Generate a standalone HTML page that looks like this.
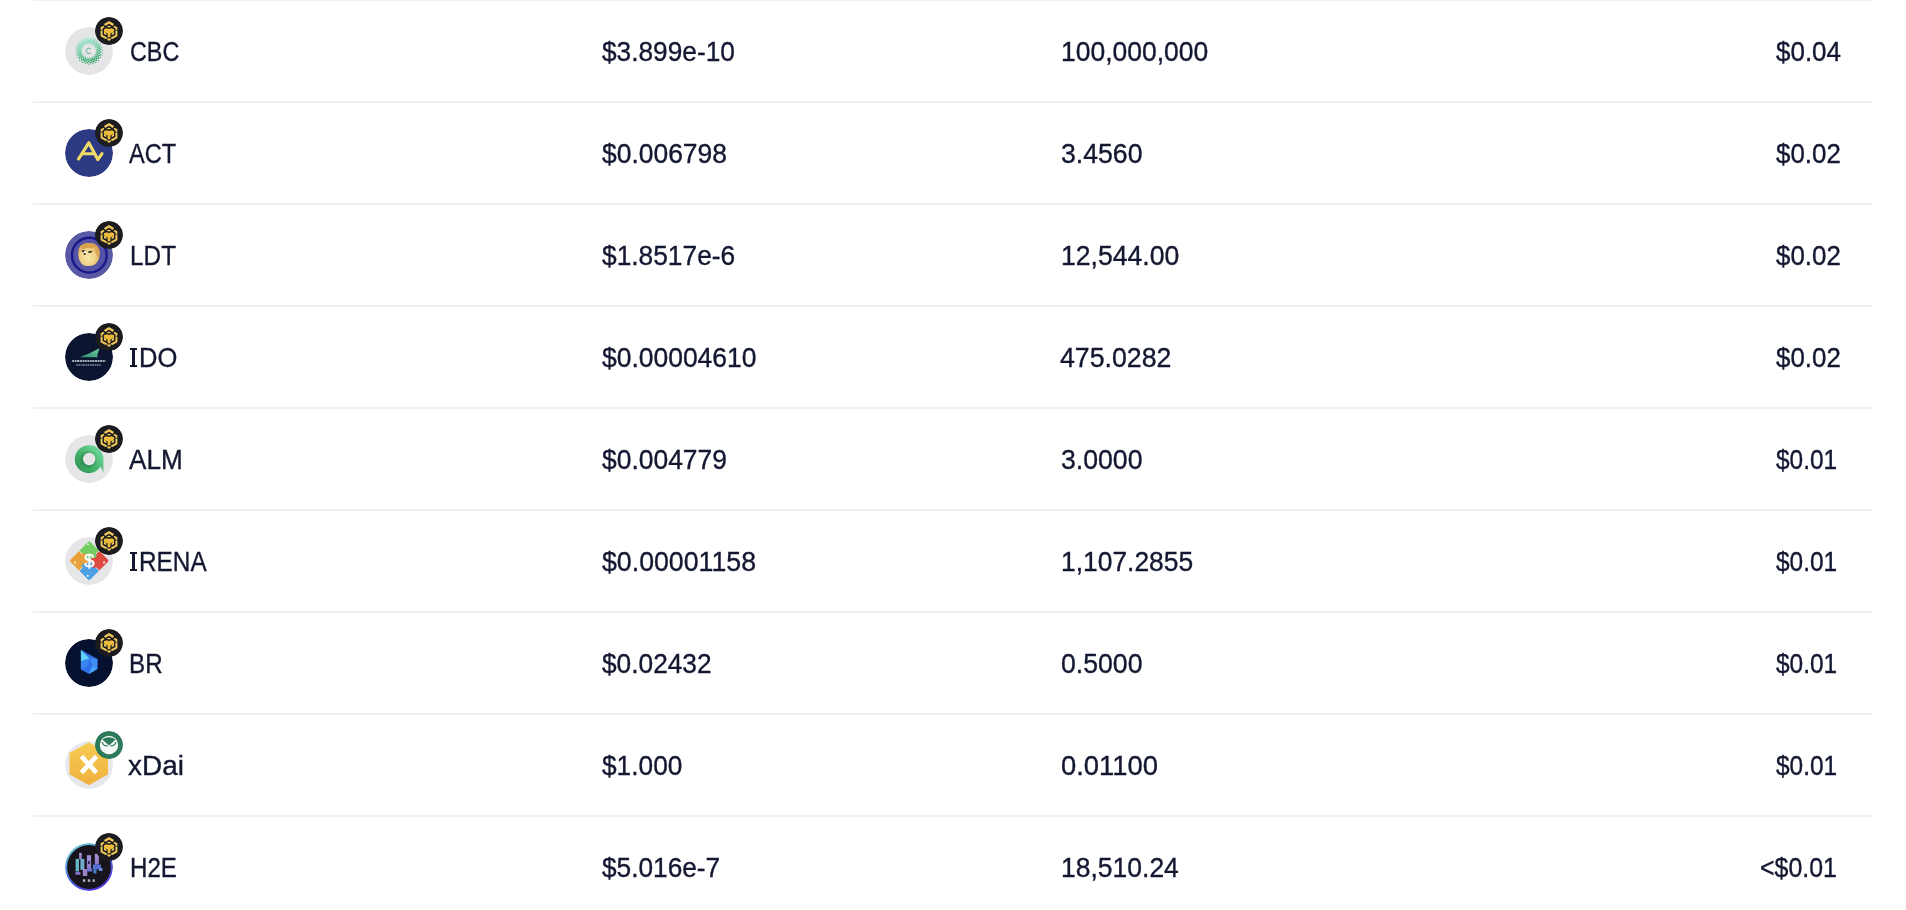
<!DOCTYPE html>
<html><head><meta charset="utf-8"><style>
html,body{margin:0;padding:0;background:#fff;width:1906px;height:910px;overflow:hidden;}
body{font-family:"Liberation Sans",sans-serif;color:#131730;position:relative;}
.ln{position:absolute;left:33px;width:1840px;height:2px;background:#eef0f5;}
.ic{position:absolute;left:65px;width:48px;height:48px;border-radius:50%;overflow:hidden;}
.ic svg,.bd svg{display:block;width:100%;height:100%;}
.bd{position:absolute;left:95px;width:28px;height:28px;border-radius:50%;overflow:hidden;}
.tw{position:absolute;left:0;top:0;width:1906px;height:910px;will-change:transform;}
.ib{position:absolute;background:#131730;}
.t{position:absolute;height:60px;line-height:60px;font-size:27.5px;white-space:nowrap;transform-origin:0 0;-webkit-text-stroke:0.35px #131730;}
</style></head><body>
<div class="ln" style="top:-1px"></div>
<div class="ln" style="top:101px"></div>
<div class="ln" style="top:203px"></div>
<div class="ln" style="top:305px"></div>
<div class="ln" style="top:407px"></div>
<div class="ln" style="top:509px"></div>
<div class="ln" style="top:611px"></div>
<div class="ln" style="top:713px"></div>
<div class="ln" style="top:815px"></div>
<div class="tw"><div class="ic" style="top:27px"><svg viewBox="0 0 48 48"><circle cx="24" cy="24" r="24" fill="#e5e5e7"/><circle cx="31.40" cy="23.80" r="0.60" fill="rgb(83, 188, 137)"/><circle cx="31.15" cy="25.72" r="0.60" fill="rgb(77, 183, 130)"/><circle cx="30.41" cy="27.50" r="0.60" fill="rgb(72, 179, 125)"/><circle cx="29.23" cy="29.03" r="0.60" fill="rgb(68, 175, 121)"/><circle cx="27.70" cy="30.21" r="0.60" fill="rgb(66, 173, 118)"/><circle cx="25.92" cy="30.95" r="0.60" fill="rgb(65, 173, 118)"/><circle cx="24.00" cy="31.20" r="0.60" fill="rgb(67, 174, 119)"/><circle cx="22.08" cy="30.95" r="0.60" fill="rgb(70, 177, 123)"/><circle cx="20.30" cy="30.21" r="0.60" fill="rgb(75, 181, 128)"/><circle cx="18.77" cy="29.03" r="0.60" fill="rgb(80, 186, 134)"/><circle cx="17.59" cy="27.50" r="0.60" fill="rgb(87, 191, 142)"/><circle cx="16.85" cy="25.72" r="0.60" fill="rgb(94, 197, 149)"/><circle cx="16.60" cy="23.80" r="0.60" fill="rgb(101, 203, 157)"/><circle cx="16.85" cy="21.88" r="0.60" fill="rgb(107, 208, 164)"/><circle cx="17.59" cy="20.10" r="0.60" fill="rgb(112, 212, 169)"/><circle cx="18.77" cy="18.57" r="0.60" fill="rgb(116, 216, 173)"/><circle cx="20.30" cy="17.39" r="0.60" fill="rgb(118, 218, 176)"/><circle cx="22.08" cy="16.65" r="0.60" fill="rgb(119, 218, 176)"/><circle cx="24.00" cy="16.40" r="0.60" fill="rgb(117, 217, 175)"/><circle cx="25.92" cy="16.65" r="0.60" fill="rgb(114, 214, 171)"/><circle cx="27.70" cy="17.39" r="0.60" fill="rgb(109, 210, 166)"/><circle cx="29.23" cy="18.57" r="0.60" fill="rgb(104, 205, 160)"/><circle cx="30.41" cy="20.10" r="0.60" fill="rgb(97, 200, 152)"/><circle cx="31.15" cy="21.88" r="0.60" fill="rgb(90, 194, 145)"/><circle cx="32.82" cy="24.96" r="0.92" fill="rgb(78, 183, 131)"/><circle cx="32.22" cy="27.21" r="0.92" fill="rgb(71, 178, 123)"/><circle cx="31.06" cy="29.22" r="0.92" fill="rgb(65, 173, 117)"/><circle cx="29.42" cy="30.86" r="0.92" fill="rgb(62, 170, 113)"/><circle cx="27.41" cy="32.02" r="0.92" fill="rgb(60, 169, 112)"/><circle cx="25.16" cy="32.62" r="0.92" fill="rgb(61, 169, 112)"/><circle cx="22.84" cy="32.62" r="0.92" fill="rgb(63, 171, 115)"/><circle cx="20.59" cy="32.02" r="0.92" fill="rgb(68, 175, 121)"/><circle cx="18.58" cy="30.86" r="0.92" fill="rgb(74, 181, 128)"/><circle cx="16.94" cy="29.22" r="0.92" fill="rgb(82, 187, 136)"/><circle cx="15.78" cy="27.21" r="0.92" fill="rgb(90, 194, 145)"/><circle cx="15.18" cy="24.96" r="0.92" fill="rgb(99, 201, 154)"/><circle cx="15.18" cy="22.64" r="0.92" fill="rgb(106, 208, 163)"/><circle cx="15.78" cy="20.39" r="0.92" fill="rgb(113, 213, 171)"/><circle cx="16.94" cy="18.38" r="0.92" fill="rgb(119, 218, 177)"/><circle cx="18.58" cy="16.74" r="0.92" fill="rgb(122, 221, 181)"/><circle cx="20.59" cy="15.58" r="0.92" fill="rgb(124, 222, 182)"/><circle cx="22.84" cy="14.98" r="0.92" fill="rgb(123, 222, 182)"/><circle cx="25.16" cy="14.98" r="0.92" fill="rgb(121, 220, 179)"/><circle cx="27.41" cy="15.58" r="0.92" fill="rgb(116, 216, 173)"/><circle cx="29.42" cy="16.74" r="0.92" fill="rgb(110, 210, 166)"/><circle cx="31.06" cy="18.38" r="0.92" fill="rgb(102, 204, 158)"/><circle cx="32.22" cy="20.39" r="0.92" fill="rgb(94, 197, 149)"/><circle cx="32.82" cy="22.64" r="0.92" fill="rgb(85, 190, 140)"/><circle cx="34.40" cy="23.80" r="1.02" fill="rgb(80, 185, 133)"/><circle cx="34.05" cy="26.49" r="1.02" fill="rgb(71, 178, 124)"/><circle cx="33.01" cy="29.00" r="1.02" fill="rgb(64, 172, 116)"/><circle cx="31.35" cy="31.15" r="1.02" fill="rgb(58, 167, 110)"/><circle cx="29.20" cy="32.81" r="1.02" fill="rgb(55, 165, 106)"/><circle cx="26.69" cy="33.85" r="1.02" fill="rgb(55, 164, 106)"/><circle cx="24.00" cy="34.20" r="1.02" fill="rgb(57, 166, 108)"/><circle cx="21.31" cy="33.85" r="1.02" fill="rgb(61, 169, 113)"/><circle cx="18.80" cy="32.81" r="1.02" fill="rgb(68, 175, 120)"/><circle cx="16.65" cy="31.15" r="1.02" fill="rgb(76, 182, 129)"/><circle cx="14.99" cy="29.00" r="1.02" fill="rgb(85, 190, 139)"/><circle cx="13.95" cy="26.49" r="1.02" fill="rgb(95, 198, 150)"/><circle cx="13.60" cy="23.80" r="1.02" fill="rgb(104, 206, 161)"/><circle cx="13.95" cy="21.11" r="1.02" fill="rgb(113, 213, 170)"/><circle cx="14.99" cy="18.60" r="1.02" fill="rgb(120, 219, 178)"/><circle cx="16.65" cy="16.45" r="1.02" fill="rgb(126, 224, 184)"/><circle cx="18.80" cy="14.79" r="1.02" fill="rgb(129, 226, 188)"/><circle cx="21.31" cy="13.75" r="1.02" fill="rgb(129, 227, 188)"/><circle cx="24.00" cy="13.40" r="1.02" fill="rgb(127, 225, 186)"/><circle cx="26.69" cy="13.75" r="1.02" fill="rgb(123, 222, 181)"/><circle cx="29.20" cy="14.79" r="1.02" fill="rgb(116, 216, 174)"/><circle cx="31.35" cy="16.45" r="1.02" fill="rgb(108, 209, 165)"/><circle cx="33.01" cy="18.60" r="1.02" fill="rgb(99, 201, 155)"/><circle cx="34.05" cy="21.11" r="1.02" fill="rgb(89, 193, 144)"/><circle cx="35.80" cy="25.35" r="0.92" fill="rgb(73, 179, 126)"/><circle cx="34.99" cy="28.35" r="0.92" fill="rgb(63, 171, 115)"/><circle cx="33.44" cy="31.04" r="0.92" fill="rgb(56, 165, 107)"/><circle cx="31.24" cy="33.24" r="0.92" fill="rgb(51, 161, 102)"/><circle cx="28.55" cy="34.79" r="0.92" fill="rgb(49, 160, 100)"/><circle cx="25.55" cy="35.60" r="0.92" fill="rgb(50, 160, 101)"/><circle cx="22.45" cy="35.60" r="0.92" fill="rgb(54, 163, 105)"/><circle cx="19.45" cy="34.79" r="0.92" fill="rgb(60, 169, 112)"/><circle cx="16.76" cy="33.24" r="0.92" fill="rgb(69, 176, 121)"/><circle cx="14.56" cy="31.04" r="0.92" fill="rgb(79, 184, 132)"/><circle cx="13.01" cy="28.35" r="0.92" fill="rgb(90, 193, 144)"/><circle cx="12.20" cy="25.35" r="0.92" fill="rgb(101, 203, 157)"/><circle cx="12.20" cy="22.25" r="0.92" fill="rgb(111, 212, 168)"/><circle cx="13.01" cy="19.25" r="0.92" fill="rgb(121, 220, 179)"/><circle cx="14.56" cy="16.56" r="0.92" fill="rgb(128, 226, 187)"/><circle cx="16.76" cy="14.36" r="0.92" fill="rgb(133, 230, 192)"/><circle cx="19.45" cy="12.81" r="0.92" fill="rgb(135, 231, 194)"/><circle cx="22.45" cy="12.00" r="0.92" fill="rgb(134, 231, 193)"/><circle cx="25.55" cy="12.00" r="0.92" fill="rgb(130, 228, 189)"/><circle cx="28.55" cy="12.81" r="0.92" fill="rgb(124, 222, 182)"/><circle cx="31.24" cy="14.36" r="0.92" fill="rgb(115, 215, 173)"/><circle cx="33.44" cy="16.56" r="0.92" fill="rgb(105, 207, 162)"/><circle cx="34.99" cy="19.25" r="0.92" fill="rgb(94, 198, 150)"/><circle cx="35.80" cy="22.25" r="0.92" fill="rgb(83, 188, 137)"/><circle cx="37.40" cy="23.80" r="0.62" fill="rgb(76, 182, 129)"/><circle cx="36.94" cy="27.27" r="0.62" fill="rgb(65, 173, 117)"/><circle cx="35.60" cy="30.50" r="0.62" fill="rgb(55, 165, 107)"/><circle cx="33.48" cy="33.28" r="0.62" fill="rgb(49, 159, 99)"/><circle cx="30.70" cy="35.40" r="0.62" fill="rgb(45, 156, 95)"/><circle cx="27.47" cy="36.74" r="0.62" fill="rgb(45, 156, 95)"/><circle cx="24.00" cy="37.20" r="0.62" fill="rgb(47, 157, 97)"/><circle cx="20.53" cy="36.74" r="0.62" fill="rgb(52, 162, 103)"/><circle cx="17.30" cy="35.40" r="0.62" fill="rgb(61, 169, 112)"/><circle cx="14.52" cy="33.28" r="0.62" fill="rgb(71, 178, 124)"/><circle cx="12.40" cy="30.50" r="0.62" fill="rgb(83, 188, 137)"/><circle cx="11.06" cy="27.27" r="0.62" fill="rgb(96, 199, 151)"/><circle cx="10.60" cy="23.80" r="0.62" fill="rgb(108, 209, 165)"/><circle cx="11.06" cy="20.33" r="0.62" fill="rgb(119, 218, 177)"/><circle cx="12.40" cy="17.10" r="0.62" fill="rgb(129, 226, 187)"/><circle cx="14.52" cy="14.32" r="0.62" fill="rgb(135, 232, 195)"/><circle cx="17.30" cy="12.20" r="0.62" fill="rgb(139, 235, 199)"/><circle cx="20.53" cy="10.86" r="0.62" fill="rgb(140, 236, 200)"/><circle cx="24.00" cy="10.40" r="0.62" fill="rgb(137, 234, 197)"/><circle cx="27.47" cy="10.86" r="0.62" fill="rgb(132, 229, 191)"/><circle cx="30.70" cy="12.20" r="0.62" fill="rgb(123, 222, 182)"/><circle cx="33.48" cy="14.32" r="0.62" fill="rgb(113, 213, 170)"/><circle cx="35.60" cy="17.10" r="0.62" fill="rgb(101, 203, 157)"/><circle cx="36.94" cy="20.33" r="0.62" fill="rgb(88, 192, 143)"/><path d="M25.9 22.2 A2.7 2.7 0 1 0 25.9 25.6" fill="none" stroke="#62b0a0" stroke-width="1.0"/></svg></div><div class="bd" style="top:17px"><svg viewBox="0 0 28 28"><circle cx="14" cy="14" r="14" fill="#1b1b20"/>
<g fill="none" stroke="#F0C85A" stroke-linejoin="miter" stroke-linecap="butt">
<polyline points="9.6,8.1 14,5.3 18.4,8.1" stroke-width="2.4"/>
<polyline points="9.0,9.5 6.6,10.9 6.6,12.7" stroke-width="2.0"/>
<polyline points="19.0,9.5 21.4,10.9 21.4,12.7" stroke-width="2.0"/>
<polyline points="6.6,13.6 6.6,18.6 11.6,21.4" stroke-width="2.0"/>
<polyline points="21.4,13.6 21.4,18.6 16.4,21.4" stroke-width="2.0"/>
</g>
<polygon points="8.9,12.2 11.5,11.3 14,11.9 16.5,11.3 19.1,12.2 19.1,14.4 15.4,16.6 15.4,20.2 12.6,20.2 12.6,16.6 8.9,14.4" fill="#EDBB3A"/>
<ellipse cx="13.9" cy="9.5" rx="1.8" ry="0.85" fill="#F0C85A"/>
<polygon points="9,14.6 11.3,15.9 11.3,18.3 9,17.0" fill="#F0C85A"/>
<polygon points="19,14.6 16.7,15.9 16.7,18.3 19,17.0" fill="#F0C85A"/>
<polygon points="12.2,20.9 14,21.7 15.8,20.9 15.8,22.6 14,24.1 12.2,22.6" fill="#F0C85A"/></svg></div>
<div class="t" style="left:129.55px;top:22px;transform:scaleX(0.8482)">CBC</div>
<div class="t" style="left:602.20px;top:22px;transform:scaleX(0.9551)">$3.899e-10</div>
<div class="t" style="left:1061.47px;top:22px;transform:scaleX(0.9633)">100,000,000</div>
<div class="t" style="left:1775.80px;top:22px;transform:scaleX(0.9441)">$0.04</div>
<div class="ic" style="top:129px"><svg viewBox="0 0 48 48"><circle cx="24" cy="24" r="24" fill="#2c3a83"/>
<path d="M13.5 30 L23.8 13.8 L32.8 30.6 L37 24.6" fill="none" stroke="#f0da68" stroke-width="3.2" stroke-linejoin="round" stroke-linecap="round"/>
<path d="M17 24.8 L28.6 24.8" fill="none" stroke="#f0da68" stroke-width="3" stroke-linecap="round"/></svg></div><div class="bd" style="top:119px"><svg viewBox="0 0 28 28"><circle cx="14" cy="14" r="14" fill="#1b1b20"/>
<g fill="none" stroke="#F0C85A" stroke-linejoin="miter" stroke-linecap="butt">
<polyline points="9.6,8.1 14,5.3 18.4,8.1" stroke-width="2.4"/>
<polyline points="9.0,9.5 6.6,10.9 6.6,12.7" stroke-width="2.0"/>
<polyline points="19.0,9.5 21.4,10.9 21.4,12.7" stroke-width="2.0"/>
<polyline points="6.6,13.6 6.6,18.6 11.6,21.4" stroke-width="2.0"/>
<polyline points="21.4,13.6 21.4,18.6 16.4,21.4" stroke-width="2.0"/>
</g>
<polygon points="8.9,12.2 11.5,11.3 14,11.9 16.5,11.3 19.1,12.2 19.1,14.4 15.4,16.6 15.4,20.2 12.6,20.2 12.6,16.6 8.9,14.4" fill="#EDBB3A"/>
<ellipse cx="13.9" cy="9.5" rx="1.8" ry="0.85" fill="#F0C85A"/>
<polygon points="9,14.6 11.3,15.9 11.3,18.3 9,17.0" fill="#F0C85A"/>
<polygon points="19,14.6 16.7,15.9 16.7,18.3 19,17.0" fill="#F0C85A"/>
<polygon points="12.2,20.9 14,21.7 15.8,20.9 15.8,22.6 14,24.1 12.2,22.6" fill="#F0C85A"/></svg></div>
<div class="t" style="left:129.00px;top:124px;transform:scaleX(0.8564)">ACT</div>
<div class="t" style="left:602.10px;top:124px;transform:scaleX(0.9612)">$0.006798</div>
<div class="t" style="left:1061.03px;top:124px;transform:scaleX(0.9683)">3.4560</div>
<div class="t" style="left:1775.80px;top:124px;transform:scaleX(0.9412)">$0.02</div>
<div class="ic" style="top:231px"><svg viewBox="0 0 48 48"><defs><radialGradient id="gd" cx="0.45" cy="0.62" r="0.6"><stop offset="0" stop-color="#f6e6a8"/><stop offset="0.55" stop-color="#f0d48a"/><stop offset="1" stop-color="#dca656"/></radialGradient></defs>
<circle cx="24" cy="24" r="24" fill="#5a59a6"/>
<circle cx="24.3" cy="24.2" r="16.6" fill="#5453a5"/>
<circle cx="24.3" cy="24.2" r="17.4" fill="none" stroke="#1a178a" stroke-width="2.4"/>
<circle cx="24" cy="24" r="11.2" fill="#3e3580" opacity="0.5"/>
<path d="M13.2 22 Q13.5 13.5 20 12.6 Q24 11.2 29 12.8 Q34.6 15 34.8 22 Q35 29.5 30 33.5 Q25 36 19 34.5 Q13 31.5 13.2 22 Z" fill="url(#gd)"/>
<path d="M15.5 16 Q18 11.8 24 12 Q30 12 33 16 Q29 15.2 26.5 17.5 Q22 15.5 18 18.5 Z" fill="#dba24e"/>
<path d="M30.5 17 Q34.5 20 33.8 27 Q31.5 24 30 20 Z" fill="#dca350"/>
<path d="M16.7 19.6 Q19 18.8 21.5 20.4 L20 22.4 Q18 21.4 16.9 20.6 Z" fill="#221c1c"/>
<path d="M22.8 20.8 Q25 19.5 27.5 20.2 L26 21.8 Q24.3 21.8 23 21.6 Z" fill="#221c1c"/>
<ellipse cx="20.2" cy="21.4" rx="1.6" ry="1.4" fill="#fffbee"/>
<ellipse cx="19.7" cy="23" rx="1.1" ry="1.1" fill="#2a2220"/></svg></div><div class="bd" style="top:221px"><svg viewBox="0 0 28 28"><circle cx="14" cy="14" r="14" fill="#1b1b20"/>
<g fill="none" stroke="#F0C85A" stroke-linejoin="miter" stroke-linecap="butt">
<polyline points="9.6,8.1 14,5.3 18.4,8.1" stroke-width="2.4"/>
<polyline points="9.0,9.5 6.6,10.9 6.6,12.7" stroke-width="2.0"/>
<polyline points="19.0,9.5 21.4,10.9 21.4,12.7" stroke-width="2.0"/>
<polyline points="6.6,13.6 6.6,18.6 11.6,21.4" stroke-width="2.0"/>
<polyline points="21.4,13.6 21.4,18.6 16.4,21.4" stroke-width="2.0"/>
</g>
<polygon points="8.9,12.2 11.5,11.3 14,11.9 16.5,11.3 19.1,12.2 19.1,14.4 15.4,16.6 15.4,20.2 12.6,20.2 12.6,16.6 8.9,14.4" fill="#EDBB3A"/>
<ellipse cx="13.9" cy="9.5" rx="1.8" ry="0.85" fill="#F0C85A"/>
<polygon points="9,14.6 11.3,15.9 11.3,18.3 9,17.0" fill="#F0C85A"/>
<polygon points="19,14.6 16.7,15.9 16.7,18.3 19,17.0" fill="#F0C85A"/>
<polygon points="12.2,20.9 14,21.7 15.8,20.9 15.8,22.6 14,24.1 12.2,22.6" fill="#F0C85A"/></svg></div>
<div class="t" style="left:129.53px;top:226px;transform:scaleX(0.8860)">LDT</div>
<div class="t" style="left:602.10px;top:226px;transform:scaleX(0.9572)">$1.8517e-6</div>
<div class="t" style="left:1061.27px;top:226px;transform:scaleX(0.9672)">12,544.00</div>
<div class="t" style="left:1775.80px;top:226px;transform:scaleX(0.9412)">$0.02</div>
<div class="ic" style="top:333px"><svg viewBox="0 0 48 48"><defs><linearGradient id="gi" x1="0" y1="1" x2="1" y2="0"><stop offset="0" stop-color="#2e8a66"/><stop offset="1" stop-color="#6fd0a8"/></linearGradient></defs>
<circle cx="24" cy="24" r="24" fill="#0b1530"/>
<path d="M14.6 24.2 Q25 20.5 34.4 15.2 L33.2 19.4 Q31.6 21.6 32.8 24.3 Z" fill="url(#gi)"/>
<path d="M7.2 28.05 H40.6" stroke="#d5dde6" stroke-width="1.4" stroke-dasharray="2.1 0.6 1.6 0.5 2.2 0.6"/>
<path d="M11.2 32 H36.2" stroke="#b4bfcc" stroke-width="1.0" stroke-dasharray="1.6 0.5 1.9 0.6"/></svg></div><div class="bd" style="top:323px"><svg viewBox="0 0 28 28"><circle cx="14" cy="14" r="14" fill="#1b1b20"/>
<g fill="none" stroke="#F0C85A" stroke-linejoin="miter" stroke-linecap="butt">
<polyline points="9.6,8.1 14,5.3 18.4,8.1" stroke-width="2.4"/>
<polyline points="9.0,9.5 6.6,10.9 6.6,12.7" stroke-width="2.0"/>
<polyline points="19.0,9.5 21.4,10.9 21.4,12.7" stroke-width="2.0"/>
<polyline points="6.6,13.6 6.6,18.6 11.6,21.4" stroke-width="2.0"/>
<polyline points="21.4,13.6 21.4,18.6 16.4,21.4" stroke-width="2.0"/>
</g>
<polygon points="8.9,12.2 11.5,11.3 14,11.9 16.5,11.3 19.1,12.2 19.1,14.4 15.4,16.6 15.4,20.2 12.6,20.2 12.6,16.6 8.9,14.4" fill="#EDBB3A"/>
<ellipse cx="13.9" cy="9.5" rx="1.8" ry="0.85" fill="#F0C85A"/>
<polygon points="9,14.6 11.3,15.9 11.3,18.3 9,17.0" fill="#F0C85A"/>
<polygon points="19,14.6 16.7,15.9 16.7,18.3 19,17.0" fill="#F0C85A"/>
<polygon points="12.2,20.9 14,21.7 15.8,20.9 15.8,22.6 14,24.1 12.2,22.6" fill="#F0C85A"/></svg></div>
<div class="t" style="left:138.94px;top:328px;transform:scaleX(0.9289)">DO</div>
<div class="ib" style="left:131.8px;top:348px;width:3.1px;height:19px"></div><div class="ib" style="left:130px;top:348px;width:6.9px;height:2.1px"></div><div class="ib" style="left:130px;top:364.9px;width:6.9px;height:2.1px"></div>
<div class="t" style="left:602.10px;top:328px;transform:scaleX(0.9619)">$0.00004610</div>
<div class="t" style="left:1060.23px;top:328px;transform:scaleX(0.9717)">475.0282</div>
<div class="t" style="left:1775.80px;top:328px;transform:scaleX(0.9412)">$0.02</div>
<div class="ic" style="top:435px"><svg viewBox="0 0 48 48"><defs><linearGradient id="ga" x1="0.9" y1="0.1" x2="0.1" y2="0.9"><stop offset="0" stop-color="#74d9a0"/><stop offset="0.55" stop-color="#45b46c"/><stop offset="1" stop-color="#2f9655"/></linearGradient>
<radialGradient id="gs" cx="0.5" cy="0.5" r="0.5"><stop offset="0.6" stop-color="#1f7a40" stop-opacity="0.55"/><stop offset="1" stop-color="#1f7a40" stop-opacity="0"/></radialGradient></defs>
<circle cx="24" cy="24" r="24" fill="#e6e6e8"/>
<path d="M24 10.2 A14 14 0 1 0 35.6 31.6 L38.4 37.6 L38.4 22.5 A14.2 14.2 0 0 0 24 10.2 Z" fill="url(#ga)"/>
<circle cx="23.0" cy="24.6" r="9.5" fill="url(#gs)"/>
<circle cx="24.2" cy="24.0" r="6.2" fill="#e6e6e8"/></svg></div><div class="bd" style="top:425px"><svg viewBox="0 0 28 28"><circle cx="14" cy="14" r="14" fill="#1b1b20"/>
<g fill="none" stroke="#F0C85A" stroke-linejoin="miter" stroke-linecap="butt">
<polyline points="9.6,8.1 14,5.3 18.4,8.1" stroke-width="2.4"/>
<polyline points="9.0,9.5 6.6,10.9 6.6,12.7" stroke-width="2.0"/>
<polyline points="19.0,9.5 21.4,10.9 21.4,12.7" stroke-width="2.0"/>
<polyline points="6.6,13.6 6.6,18.6 11.6,21.4" stroke-width="2.0"/>
<polyline points="21.4,13.6 21.4,18.6 16.4,21.4" stroke-width="2.0"/>
</g>
<polygon points="8.9,12.2 11.5,11.3 14,11.9 16.5,11.3 19.1,12.2 19.1,14.4 15.4,16.6 15.4,20.2 12.6,20.2 12.6,16.6 8.9,14.4" fill="#EDBB3A"/>
<ellipse cx="13.9" cy="9.5" rx="1.8" ry="0.85" fill="#F0C85A"/>
<polygon points="9,14.6 11.3,15.9 11.3,18.3 9,17.0" fill="#F0C85A"/>
<polygon points="19,14.6 16.7,15.9 16.7,18.3 19,17.0" fill="#F0C85A"/>
<polygon points="12.2,20.9 14,21.7 15.8,20.9 15.8,22.6 14,24.1 12.2,22.6" fill="#F0C85A"/></svg></div>
<div class="t" style="left:129.00px;top:430px;transform:scaleX(0.9491)">ALM</div>
<div class="t" style="left:602.10px;top:430px;transform:scaleX(0.9612)">$0.004779</div>
<div class="t" style="left:1061.03px;top:430px;transform:scaleX(0.9683)">3.0000</div>
<div class="t" style="left:1775.80px;top:430px;transform:scaleX(0.8882)">$0.01</div>
<div class="ic" style="top:537px"><svg viewBox="0 0 48 48"><defs><clipPath id="cq"><rect x="10" y="9.5" width="28.4" height="28.4" rx="2.2"/></clipPath></defs>
<circle cx="24" cy="24" r="24" fill="#e6e6e8"/>
<g transform="rotate(45 24.2 23.7)" clip-path="url(#cq)">
<rect x="10" y="9.5" width="14.2" height="14.2" fill="#72cc62"/>
<rect x="24.2" y="9.5" width="14.2" height="14.2" fill="#dd4a3f"/>
<rect x="24.2" y="23.7" width="14.2" height="14.2" fill="#4c9fe3"/>
<rect x="10" y="23.7" width="14.2" height="14.2" fill="#e9a23b"/>
<circle cx="24.2" cy="16.6" r="2.3" fill="#72cc62"/>
<circle cx="31.3" cy="23.7" r="2.3" fill="#dd4a3f"/>
<circle cx="24.2" cy="30.8" r="2.3" fill="#4c9fe3"/>
<circle cx="17.1" cy="23.7" r="2.3" fill="#e9a23b"/>
<path d="M10 23.7 H14.8 M19.4 23.7 H24.2 V18.9 M24.2 14.3 V9.5 M24.2 23.7 H29 M33.6 23.7 H38.4 M24.2 23.7 V28.5 M24.2 33.1 V37.9" stroke="#f4f4f4" stroke-width="0.7" fill="none"/>
</g>
<g fill="#ffffff" opacity="0.85"><rect x="22.2" y="6.6" width="1.6" height="1.6"/><rect x="9.2" y="24.6" width="1.8" height="1.8"/><rect x="38.2" y="24.4" width="1.8" height="2"/><rect x="21.8" y="38" width="1.8" height="1.8"/></g>
<text x="24.3" y="30.4" font-family="Liberation Sans" font-size="19" fill="#ffffff" stroke="#ffffff" stroke-width="0.4" text-anchor="middle">$</text></svg></div><div class="bd" style="top:527px"><svg viewBox="0 0 28 28"><circle cx="14" cy="14" r="14" fill="#1b1b20"/>
<g fill="none" stroke="#F0C85A" stroke-linejoin="miter" stroke-linecap="butt">
<polyline points="9.6,8.1 14,5.3 18.4,8.1" stroke-width="2.4"/>
<polyline points="9.0,9.5 6.6,10.9 6.6,12.7" stroke-width="2.0"/>
<polyline points="19.0,9.5 21.4,10.9 21.4,12.7" stroke-width="2.0"/>
<polyline points="6.6,13.6 6.6,18.6 11.6,21.4" stroke-width="2.0"/>
<polyline points="21.4,13.6 21.4,18.6 16.4,21.4" stroke-width="2.0"/>
</g>
<polygon points="8.9,12.2 11.5,11.3 14,11.9 16.5,11.3 19.1,12.2 19.1,14.4 15.4,16.6 15.4,20.2 12.6,20.2 12.6,16.6 8.9,14.4" fill="#EDBB3A"/>
<ellipse cx="13.9" cy="9.5" rx="1.8" ry="0.85" fill="#F0C85A"/>
<polygon points="9,14.6 11.3,15.9 11.3,18.3 9,17.0" fill="#F0C85A"/>
<polygon points="19,14.6 16.7,15.9 16.7,18.3 19,17.0" fill="#F0C85A"/>
<polygon points="12.2,20.9 14,21.7 15.8,20.9 15.8,22.6 14,24.1 12.2,22.6" fill="#F0C85A"/></svg></div>
<div class="t" style="left:138.83px;top:532px;transform:scaleX(0.8851)">RENA</div>
<div class="ib" style="left:131.8px;top:552px;width:3.1px;height:19px"></div><div class="ib" style="left:130px;top:552px;width:6.9px;height:2.1px"></div><div class="ib" style="left:130px;top:568.9px;width:6.9px;height:2.1px"></div>
<div class="t" style="left:602.10px;top:532px;transform:scaleX(0.9715)">$0.00001158</div>
<div class="t" style="left:1061.28px;top:532px;transform:scaleX(0.9600)">1,107.2855</div>
<div class="t" style="left:1775.80px;top:532px;transform:scaleX(0.8882)">$0.01</div>
<div class="ic" style="top:639px"><svg viewBox="0 0 48 48"><circle cx="24" cy="24" r="24" fill="#06102f"/>
<path d="M15.9 10.8 L32.4 20 L32.4 30 L24 35.1 L15.9 30.5 Z" fill="#2f6fe9"/>
<path d="M15.9 10.8 L24.5 19.5 L15.9 22.5 Z" fill="#5fd0f7"/>
<path d="M15.9 22.5 L24.5 19.5 L22 28 L15.9 30.5 Z" fill="#3a86f0"/>
<path d="M24.5 19.5 L32.4 20 L32.4 30 L27.5 27 Z" fill="#3f8cf2"/>
<path d="M27.5 27 L32.4 30 L24 35.1 Z" fill="#4aa6f4"/></svg></div><div class="bd" style="top:629px"><svg viewBox="0 0 28 28"><circle cx="14" cy="14" r="14" fill="#1b1b20"/>
<g fill="none" stroke="#F0C85A" stroke-linejoin="miter" stroke-linecap="butt">
<polyline points="9.6,8.1 14,5.3 18.4,8.1" stroke-width="2.4"/>
<polyline points="9.0,9.5 6.6,10.9 6.6,12.7" stroke-width="2.0"/>
<polyline points="19.0,9.5 21.4,10.9 21.4,12.7" stroke-width="2.0"/>
<polyline points="6.6,13.6 6.6,18.6 11.6,21.4" stroke-width="2.0"/>
<polyline points="21.4,13.6 21.4,18.6 16.4,21.4" stroke-width="2.0"/>
</g>
<polygon points="8.9,12.2 11.5,11.3 14,11.9 16.5,11.3 19.1,12.2 19.1,14.4 15.4,16.6 15.4,20.2 12.6,20.2 12.6,16.6 8.9,14.4" fill="#EDBB3A"/>
<ellipse cx="13.9" cy="9.5" rx="1.8" ry="0.85" fill="#F0C85A"/>
<polygon points="9,14.6 11.3,15.9 11.3,18.3 9,17.0" fill="#F0C85A"/>
<polygon points="19,14.6 16.7,15.9 16.7,18.3 19,17.0" fill="#F0C85A"/>
<polygon points="12.2,20.9 14,21.7 15.8,20.9 15.8,22.6 14,24.1 12.2,22.6" fill="#F0C85A"/></svg></div>
<div class="t" style="left:129.34px;top:634px;transform:scaleX(0.8800)">BR</div>
<div class="t" style="left:602.10px;top:634px;transform:scaleX(0.9553)">$0.02432</div>
<div class="t" style="left:1061.03px;top:634px;transform:scaleX(0.9683)">0.5000</div>
<div class="t" style="left:1775.80px;top:634px;transform:scaleX(0.8882)">$0.01</div>
<div class="ic" style="top:741px"><svg viewBox="0 0 48 48"><defs><linearGradient id="gx" x1="0" y1="0" x2="0" y2="1"><stop offset="0" stop-color="#f6cc52"/><stop offset="1" stop-color="#f0b13f"/></linearGradient></defs>
<circle cx="24" cy="24" r="24" fill="#e7e8ec"/>
<polygon points="23.80,2.10 41.64,12.40 41.64,33.00 23.80,43.30 5.96,33.00 5.96,12.40" fill="url(#gx)" stroke="url(#gx)" stroke-width="1.4" stroke-linejoin="round" transform="translate(23.8 22.7) scale(1.04 1) translate(-23.8 -22.7)"/>
<path d="M16.4 15.4 L31.4 31.6 M31.4 15.4 L16.4 31.6" stroke="#ffffff" stroke-width="4.6"/></svg></div><div class="bd" style="top:731px"><svg viewBox="0 0 28 28"><circle cx="14" cy="14" r="14" fill="#2d7a5b"/>
<circle cx="14" cy="14" r="9.2" fill="#f3f7f5"/>
<path d="M7.3 8.5 A11.9 11.9 0 0 1 20.7 8.5 L14 14.5 Z" fill="#2d7a5b"/>
<path d="M7.2 11.0 Q8.0 15.2 12.6 14.9 M20.8 11.0 Q20.0 15.2 15.4 14.9" fill="none" stroke="#2d7a5b" stroke-width="1.25"/></svg></div>
<div class="t" style="left:128.38px;top:736px;transform:scaleX(1.0154)">xDai</div>
<div class="t" style="left:602.10px;top:736px;transform:scaleX(0.9554)">$1.000</div>
<div class="t" style="left:1061.01px;top:736px;transform:scaleX(0.9947)">0.01100</div>
<div class="t" style="left:1775.80px;top:736px;transform:scaleX(0.8882)">$0.01</div>
<div class="ic" style="top:843px"><svg viewBox="0 0 48 48"><defs><linearGradient id="gh" x1="0.1" y1="0" x2="0.7" y2="1"><stop offset="0" stop-color="#74e2d4"/><stop offset="0.55" stop-color="#4b6ee2"/><stop offset="1" stop-color="#5530d8"/></linearGradient>
<linearGradient id="gl" x1="0" y1="0" x2="0" y2="1"><stop offset="0" stop-color="#b49ae0"/><stop offset="1" stop-color="#9a80d8"/></linearGradient></defs>
<circle cx="24" cy="24" r="24" fill="url(#gh)"/>
<circle cx="24" cy="24" r="21.9" fill="#17141c"/>
<g opacity="0.93"><rect x="14.1" y="9.9" width="2.7" height="6.5" fill="url(#gl)"/>
<rect x="10.6" y="15.9" width="3.4" height="12.5" fill="#6cc6d2"/>
<rect x="15.4" y="15.9" width="4.0" height="11" fill="#7ab6d8"/>
<rect x="10.4" y="28.8" width="5" height="3" fill="#8a76d4"/>
<rect x="21.9" y="12.2" width="4.2" height="13.8" fill="url(#gl)"/>
<rect x="23" y="18" width="2" height="3" fill="#3a2f5a"/>
<rect x="17.8" y="26" width="4.5" height="7" fill="#a98ad8"/>
<rect x="22.3" y="25.5" width="5" height="3" fill="#6e7fe0"/>
<rect x="29.8" y="10.8" width="4.1" height="10.7" fill="url(#gl)"/>
<rect x="27.9" y="21.5" width="8" height="5" fill="#5a78e2"/>
<rect x="28.5" y="26.5" width="3" height="4" fill="#4f8ee0"/>
<rect x="34" y="25" width="3.5" height="3" fill="#6f9ae6"/></g><g opacity="0.8">
<rect x="17.9" y="36.3" width="2.4" height="2.6" fill="#d8d8e0"/>
<rect x="22.8" y="36.3" width="2.4" height="2.6" fill="#d8d8e0"/>
<rect x="27.6" y="36.3" width="2.2" height="2.6" fill="#d8d8e0"/></g></svg></div><div class="bd" style="top:833px"><svg viewBox="0 0 28 28"><circle cx="14" cy="14" r="14" fill="#1b1b20"/>
<g fill="none" stroke="#F0C85A" stroke-linejoin="miter" stroke-linecap="butt">
<polyline points="9.6,8.1 14,5.3 18.4,8.1" stroke-width="2.4"/>
<polyline points="9.0,9.5 6.6,10.9 6.6,12.7" stroke-width="2.0"/>
<polyline points="19.0,9.5 21.4,10.9 21.4,12.7" stroke-width="2.0"/>
<polyline points="6.6,13.6 6.6,18.6 11.6,21.4" stroke-width="2.0"/>
<polyline points="21.4,13.6 21.4,18.6 16.4,21.4" stroke-width="2.0"/>
</g>
<polygon points="8.9,12.2 11.5,11.3 14,11.9 16.5,11.3 19.1,12.2 19.1,14.4 15.4,16.6 15.4,20.2 12.6,20.2 12.6,16.6 8.9,14.4" fill="#EDBB3A"/>
<ellipse cx="13.9" cy="9.5" rx="1.8" ry="0.85" fill="#F0C85A"/>
<polygon points="9,14.6 11.3,15.9 11.3,18.3 9,17.0" fill="#F0C85A"/>
<polygon points="19,14.6 16.7,15.9 16.7,18.3 19,17.0" fill="#F0C85A"/>
<polygon points="12.2,20.9 14,21.7 15.8,20.9 15.8,22.6 14,24.1 12.2,22.6" fill="#F0C85A"/></svg></div>
<div class="t" style="left:129.55px;top:838px;transform:scaleX(0.8765)">H2E</div>
<div class="t" style="left:602.10px;top:838px;transform:scaleX(0.9537)">$5.016e-7</div>
<div class="t" style="left:1061.27px;top:838px;transform:scaleX(0.9633)">18,510.24</div>
<div class="t" style="left:1759.89px;top:838px;transform:scaleX(0.9060)">&lt;$0.01</div>
</div>
</body></html>
